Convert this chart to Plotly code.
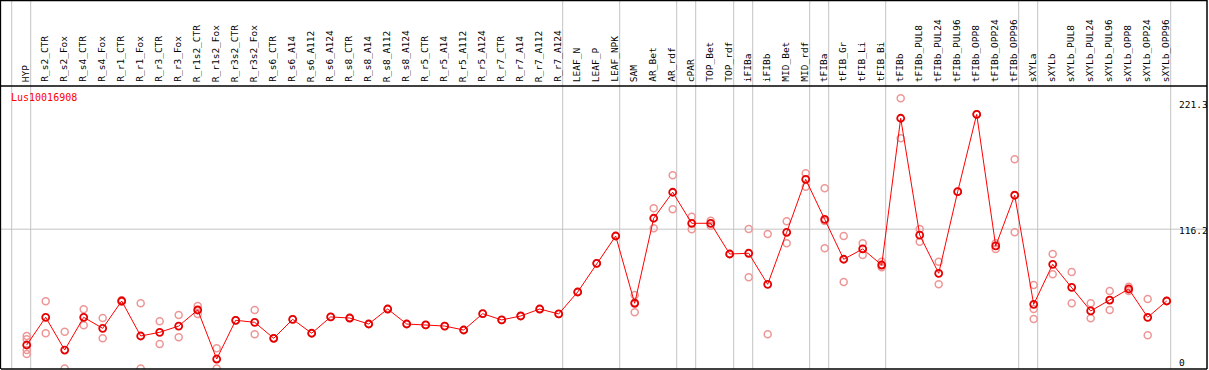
import plotly.graph_objects as go

categories = ["HYP", "R_s2_CTR", "R_s2_Fox", "R_s4_CTR", "R_s4_Fox", "R_r1_CTR", "R_r1_Fox",
              "R_r3_CTR", "R_r3_Fox", "R_r1s2_CTR", "R_r1s2_Fox", "R_r3s2_CTR", "R_r3s2_Fox",
              "R_s6_CTR", "R_s6_A14", "R_s6_A112", "R_s6_A124", "R_s8_CTR", "R_s8_A14",
              "R_s8_A112", "R_s8_A124", "R_r5_CTR", "R_r5_A14", "R_r5_A112", "R_r5_A124",
              "R_r7_CTR", "R_r7_A14", "R_r7_A112", "R_r7_A124", "LEAF_N", "LEAF_P", "LEAF_NPK",
              "SAM", "AR_Bet", "AR_rdf", "cPAR", "TOP_Bet", "TOP_rdf", "iFIBa", "iFIBb",
              "MID_Bet", "MID_rdf", "tFIBa", "tFIB_Gr", "tFIB_Li", "tFIB_Bi", "tFIBb",
              "tFIBb_PUL8", "tFIBb_PUL24", "tFIBb_PUL96", "tFIBb_OPP8", "tFIBb_OPP24",
              "tFIBb_OPP96", "sXYLa", "sXYLb", "sXYLb_PUL8", "sXYLb_PUL24", "sXYLb_PUL96",
              "sXYLb_OPP8", "sXYLb_OPP24", "sXYLb_OPP96"]

mean_values = [19.6, 42.7, 15.4, 42.7, 33.5, 56.3, 27.1, 30.2, 35.4, 48.8,
               7.9, 40.2, 38.5, 25.2, 41.0, 29.4, 43.0, 42.1, 37.1, 49.6,
               37.1, 36.3, 35.4, 32.1, 45.7, 40.5, 43.8, 49.6, 45.5, 63.8,
               87.7, 110.5, 54.4, 125.3, 147.0, 121.1, 121.1, 95.5, 96.1, 70.2,
               113.6, 157.8, 124.4, 91.1, 99.7, 86.3, 208.7, 111.3, 79.4, 147.5,
               212.0, 102.2, 144.5, 53.5, 86.9, 67.7, 48.0, 57.1, 66.3, 42.7, 56.3]

replicate_values = [
    [27.1, 24.3, 15.4, 12.1], [56.0, 29.4], [30.7, 0.0], [49.4, 36.0], [42.1, 25.2],
    [57.0, 55.6], [54.4, 0.0], [39.4, 20.4], [44.6, 26.0], [52.1, 45.5],
    [16.8, 0.0], [40.2], [48.8, 28.5], [25.2], [41.0],
    [29.4], [43.0], [42.1], [37.1], [49.6],
    [37.1], [36.3], [35.4], [32.1], [45.7],
    [40.5], [43.8], [49.6], [45.5], [63.8],
    [87.7], [110.5], [61.3, 55.0, 46.9], [133.6, 116.9], [161.1, 132.8],
    [126.6, 116.1], [123.3, 119.1], [95.5], [116.3, 76.1], [112.2, 28.5],
    [122.8, 104.4], [162.8, 151.6], [150.3, 123.0, 100.3], [110.5, 72.1], [104.4, 94.7],
    [89.1, 84.4], [225.4, 192.0], [116.3, 105.8], [89.1, 70.2], [147.5],
    [212.0], [104.4, 99.7], [174.5, 113.6], [69.6, 49.6, 41.3], [95.5, 78.6],
    [80.5, 54.4], [54.4, 41.9], [64.6, 48.8], [68.2, 64.6], [58.0, 27.7], [56.3],
]

# group separators (after these category indices)
group_breaks = [-1, 0, 28, 31, 34, 35, 37, 38, 41, 42, 45, 52, 53, 60]
y_ticks = [0, 116.2, 221.3]
y_tick_labels = ["0", "116.2", "221.3"]
title_text = "Lus10016908"

W, H = 1209, 370
ML, MR, MT, MB = 1, 2, 86, 1
plot_w = W - ML - MR
plot_h = H - MT - MB

rep_x, rep_y = [], []
for i, reps in enumerate(replicate_values):
    for v in reps:
        rep_x.append(i)
        rep_y.append(v)

fig = go.Figure()
fig.add_trace(go.Scatter(
    x=rep_x, y=rep_y, mode="markers",
    marker=dict(symbol="circle-open", size=7, color="rgb(238,150,150)",
                line=dict(width=1.5, color="rgb(238,150,150)")),
    hoverinfo="skip", showlegend=False))
fig.add_trace(go.Scatter(
    x=list(range(len(categories))), y=mean_values, mode="lines+markers",
    line=dict(color="rgb(255,0,0)", width=1),
    marker=dict(symbol="circle-open", size=7, color="rgb(230,0,0)",
                line=dict(width=1.8, color="rgb(230,0,0)")),
    showlegend=False))

shapes = []
top_paper = 1 + MT / plot_h
for b in group_breaks:
    shapes.append(dict(type="line", xref="x", yref="paper", x0=b + 0.21, x1=b + 0.21,
                       y0=0, y1=top_paper, line=dict(color="rgb(195,195,195)", width=1),
                       layer="below"))
shapes.append(dict(type="line", xref="paper", yref="y", x0=0, x1=1, y0=116.2, y1=116.2,
                   line=dict(color="rgb(195,195,195)", width=1), layer="below"))
# frame
blk = dict(color="black", width=1.5)
shapes.append(dict(type="line", xref="paper", yref="paper", x0=0, x1=1, y0=1, y1=1, line=blk))
shapes.append(dict(type="line", xref="paper", yref="paper", x0=0, x1=1, y0=top_paper - 0.002,
                   y1=top_paper - 0.002, line=blk))
shapes.append(dict(type="line", xref="paper", yref="paper", x0=0, x1=1, y0=0, y1=0, line=blk))
shapes.append(dict(type="line", xref="paper", yref="paper", x0=-0.0005, x1=-0.0005, y0=0,
                   y1=top_paper, line=blk))
shapes.append(dict(type="line", xref="paper", yref="paper", x0=1, x1=1, y0=0,
                   y1=top_paper, line=blk))

annotations = []
mono = "DejaVu Sans Mono"
for i, c in enumerate(categories):
    annotations.append(dict(x=i, y=1 + 3 / plot_h, xref="x", yref="paper", text=c,
                            textangle=-90, showarrow=False, xanchor="center",
                            yanchor="bottom", xshift=-1, borderpad=0,
                            font=dict(family=mono, size=9.5, color="black")))
shifts = {0: 6.5, 116.2: -1, 221.3: -1}
for v, t in zip(y_ticks, y_tick_labels):
    annotations.append(dict(x=(1178 - ML) / plot_w, y=v, xref="paper", yref="y", text=t,
                            showarrow=False, xanchor="left", yanchor="middle",
                            yshift=shifts[v], borderpad=0,
                            font=dict(family=mono, size=9.5, color="black")))
annotations.append(dict(x=8 / plot_w, y=1 - 11 / plot_h, xref="paper", yref="paper",
                        text=title_text, showarrow=False, xanchor="left", yanchor="middle",
                        font=dict(family=mono, size=10, color="red")))

x0 = (ML - 26.7) / 19
x1 = (W - MR - 26.7) / 19
fig.update_layout(
    width=W, height=H, margin=dict(l=ML, r=MR, t=MT, b=MB),
    paper_bgcolor="white", plot_bgcolor="white",
    xaxis=dict(range=[x0, x1], showgrid=False, zeroline=False, showticklabels=False,
               ticks="", showline=False),
    yaxis=dict(range=[-0.42, 235.6], showgrid=False, zeroline=False, showticklabels=False,
               ticks="", showline=False),
    shapes=shapes, annotations=annotations, showlegend=False,
)
fig.write_html("out.html", config={"displayModeBar": False},
               post_script="document.body.style.margin='0';document.body.style.padding='0';"
                           "document.body.style.overflow='hidden';")
